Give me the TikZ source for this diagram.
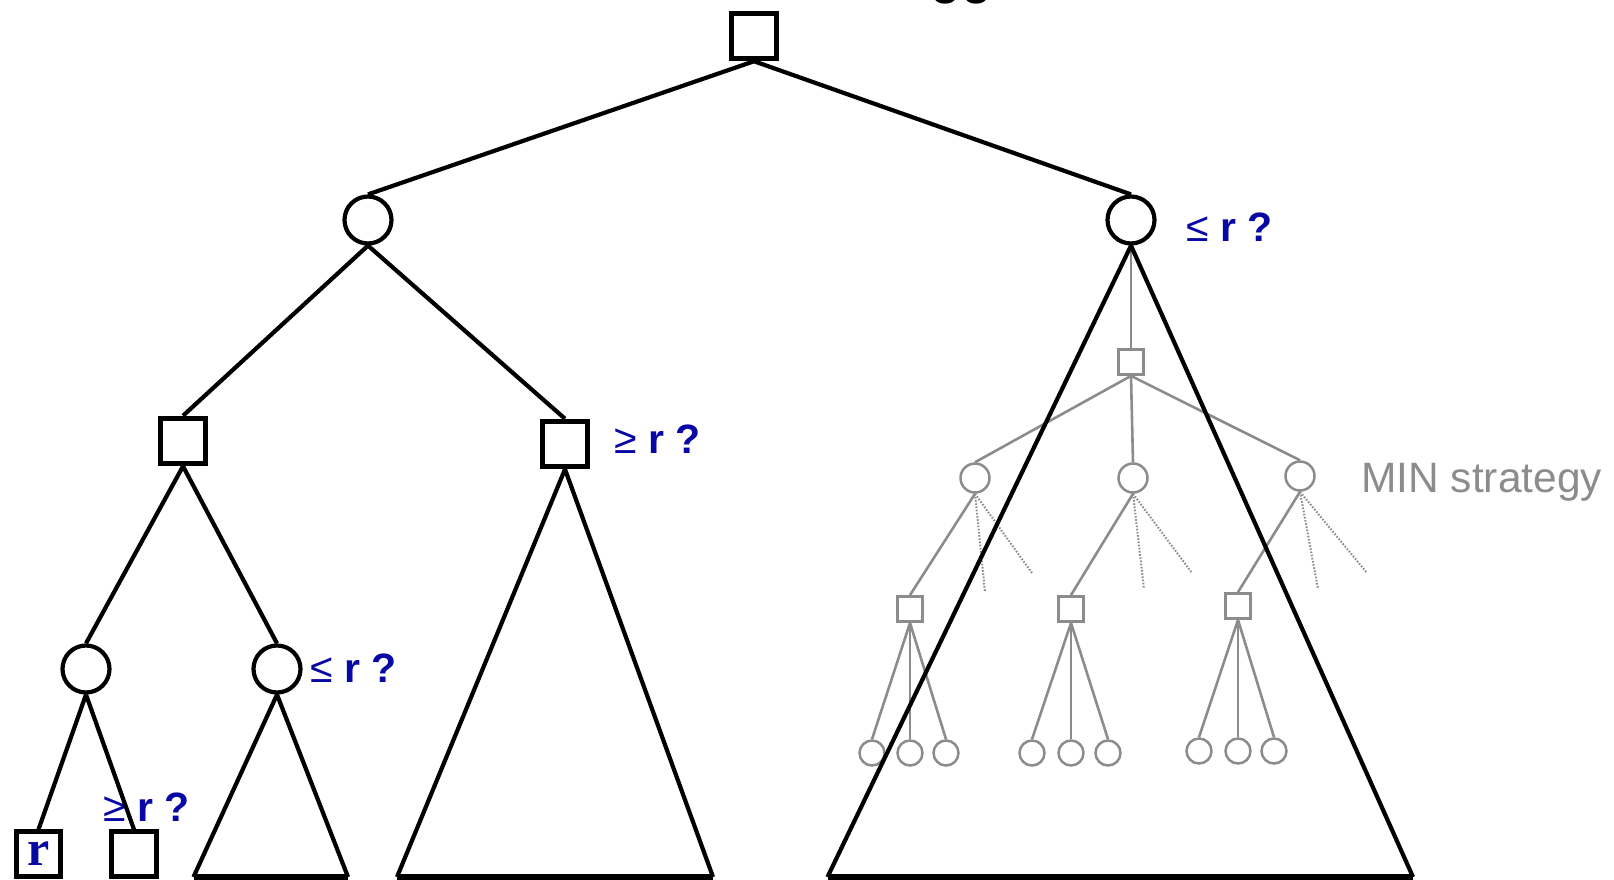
\documentclass[tikz,border=0pt]{standalone}
\usepackage{fontspec}
\setmainfont{Liberation Sans}
\newfontfamily\rfont{Liberation Serif}
\usepackage{xcolor}
\usepackage{tikz}
\usetikzlibrary{positioning}
\definecolor{qblue}{RGB}{8,8,165}
\definecolor{qgray}{RGB}{140,140,140}
\tikzset{
  maxbox/.style={draw, rectangle, line width=5pt, minimum size=45.5pt,
                 inner sep=0pt, fill=white},
  minball/.style={draw, circle, line width=4.2pt, minimum size=47pt,
                  inner sep=0pt, fill=white},
  leafbox/.style={draw, rectangle, line width=4.6pt, minimum size=44.5pt,
                  inner sep=0pt, fill=white},
  gmax/.style={draw=qgray, rectangle, line width=2.8pt, minimum size=25pt,
               inner sep=0pt, fill=white},
  gmin/.style={draw=qgray, circle, line width=2.5pt, minimum size=29pt,
               inner sep=0pt, fill=white},
  gleaf/.style={draw=qgray, circle, line width=2.5pt, minimum size=25pt,
                inner sep=0pt, fill=white},
  link/.style={line width=4.2pt},
  tri/.style={line width=4.2pt, line join=round},
  base/.style={line width=5.5pt},
  glink/.style={draw=qgray, line width=2.6pt},
  gdots/.style={draw=qgray, line width=2pt, dash pattern=on 1.6pt off 1.6pt},
  query/.style={anchor=base west, inner sep=0pt, text=qblue,
                font=\bfseries\fontsize{41}{48}\selectfont},
  glabel/.style={anchor=base west, inner sep=0pt, text=qgray,
                 font=\fontsize{42.5}{48}\selectfont}
}
\newcommand{\lesym}{{\mdseries\char"2264}}
\newcommand{\gesym}{{\mdseries\char"2265}}

\begin{document}
\begin{tikzpicture}[x=1pt, y=-1pt]
  \useasboundingbox (0,0) rectangle (1614,880);
  % cut-off heading above the picture
  \node[anchor=base west, inner sep=0pt, font=\fontsize{56}{60}\selectfont]
    (head) at (930,-7) {gg};

  % main tree
  \node[maxbox] (root) at (754,36) {};
  \node[minball] (minL) at (368,220) {};
  \node[minball] (minR) at (1131,220) {};
  \node[maxbox] (maxA) at (183,441) {};
  \node[maxbox] (maxB) at (565,444) {};
  \node[minball] (minC) at (86,669) {};
  \node[minball] (minD) at (277,669) {};
  \node[leafbox, text=qblue, font=\rfont\bfseries\fontsize{50}{50}\selectfont]
    (leafR) at (38.5,854) {r};
  \node[leafbox] (leafE) at (134,854) {};

  \node[query] (qR) at (1186,241) {\lesym\ r ?};
  \node[query] (qB) at (614,453) {\gesym\ r ?};
  \node[query] (qD) at (310,682) {\lesym\ r ?};
  \node[query] (qE) at (103,821) {\gesym\ r ?};

  % MIN strategy below minR
  \node[gmax] (gmx) at (1131,362) {};
  \node[gmin] (gmn1) at (975,478) {};
  \node[gmin] (gmn2) at (1133,478) {};
  \node[gmin] (gmn3) at (1300,476) {};
  \node[gmax] (gmx1) at (910,609) {};
  \node[gmax] (gmx2) at (1071,609) {};
  \node[gmax] (gmx3) at (1238,606) {};
  \node[gleaf] (gl11) at (872,753) {};
  \node[gleaf] (gl12) at (910,753) {};
  \node[gleaf] (gl13) at (946,753) {};
  \node[gleaf] (gl21) at (1032,753) {};
  \node[gleaf] (gl22) at (1071,753) {};
  \node[gleaf] (gl23) at (1108,753) {};
  \node[gleaf] (gl31) at (1199,751) {};
  \node[gleaf] (gl32) at (1238,751) {};
  \node[gleaf] (gl33) at (1274,751) {};
  \node[glabel] (strat) at (1361,492) {MIN strategy};

  \coordinate (d1a) at (985,592);
  \coordinate (d1b) at (1032,573);
  \coordinate (d2a) at (1144,589);
  \coordinate (d2b) at (1192,573);
  \coordinate (d3a) at (1318,589);
  \coordinate (d3b) at (1367,573);

  \draw[glink] (minR.south) -- (gmx.north);
  \draw[glink] (gmx.south) -- (gmn1.north);
  \draw[glink] (gmx.south) -- (gmn2.north);
  \draw[glink] (gmx.south) -- (gmn3.north);
  \draw[glink] (gmn1.south) -- (gmx1.north);
  \draw[glink] (gmn2.south) -- (gmx2.north);
  \draw[glink] (gmn3.south) -- (gmx3.north);
  \draw[gdots] (gmn1.south) -- (d1a);
  \draw[gdots] (gmn1.south) -- (d1b);
  \draw[gdots] (gmn2.south) -- (d2a);
  \draw[gdots] (gmn2.south) -- (d2b);
  \draw[gdots] (gmn3.south) -- (d3a);
  \draw[gdots] (gmn3.south) -- (d3b);
  \draw[glink] (gmx1.south) -- (gl11.north);
  \draw[glink] (gmx1.south) -- (gl12.north);
  \draw[glink] (gmx1.south) -- (gl13.north);
  \draw[glink] (gmx2.south) -- (gl21.north);
  \draw[glink] (gmx2.south) -- (gl22.north);
  \draw[glink] (gmx2.south) -- (gl23.north);
  \draw[glink] (gmx3.south) -- (gl31.north);
  \draw[glink] (gmx3.south) -- (gl32.north);
  \draw[glink] (gmx3.south) -- (gl33.north);

  % edges of the main tree
  \draw[link] (root.south) -- (minL.north);
  \draw[link] (root.south) -- (minR.north);
  \draw[link] (minL.south) -- (maxA.north);
  \draw[link] (minL.south) -- (maxB.north);
  \draw[link] (maxA.south) -- (minC.north);
  \draw[link] (maxA.south) -- (minD.north);
  \draw[link] (minC.south) -- (leafR.north);
  \draw[link] (minC.south) -- (leafE.north);

  % subtrees as triangles
  \coordinate (dL) at (193.5,877);
  \coordinate (dR) at (348,877);
  \coordinate (bL) at (397,877);
  \coordinate (bR) at (713,877);
  \coordinate (rL) at (827.5,877);
  \coordinate (rR) at (1413,877);
  \draw[tri] (dL) -- (minD.south) -- (dR);
  \draw[tri] (bL) -- (maxB.south) -- (bR);
  \draw[tri] (rL) -- (minR.south) -- (rR);
  \draw[base] (dL) -- (dR);
  \draw[base] (bL) -- (bR);
  \draw[base] (rL) -- (rR);
\end{tikzpicture}
\end{document}
